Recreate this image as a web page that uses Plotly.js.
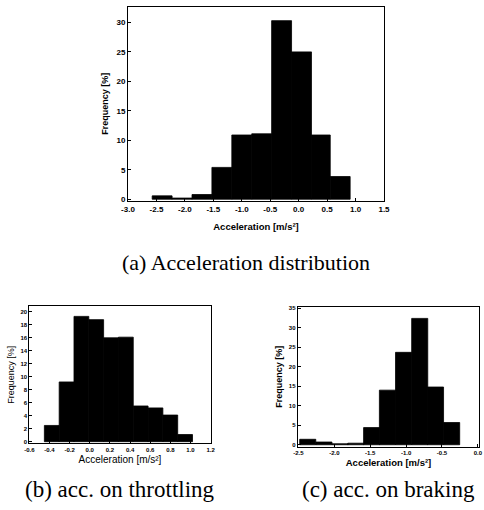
<!DOCTYPE html>
<html>
<head>
<meta charset="utf-8">
<script src="https://cdn.plot.ly/plotly-3.0.1.min.js"></script>
<style>html,body{margin:0;padding:0;background:#fff;}#chart{width:484px;height:510px;}</style>
</head>
<body>
<div id="chart"></div>
<script>
// (a) Acceleration distribution
const accCenters = [-2.40, -2.05, -1.70, -1.35, -1.00, -0.65, -0.30, 0.05, 0.39, 0.73];
const accWidths  = [0.35, 0.35, 0.35, 0.35, 0.35, 0.35, 0.35, 0.35, 0.33, 0.35];
const accFreq    = [0.57, 0.2, 0.8, 5.4, 10.9, 11.1, 30.3, 25.0, 10.9, 3.85];
const accXTicks  = [-3.0, -2.5, -2.0, -1.5, -1.0, -0.5, 0.0, 0.5, 1.0, 1.5];
const accYTicks  = [0, 5, 10, 15, 20, 25, 30];

// (b) acc. on throttling
const thrCenters = [-0.377, -0.230, -0.083, 0.064, 0.211, 0.358, 0.505, 0.652, 0.799, 0.946];
const thrWidth   = 0.147;
const thrFreq    = [2.5, 9.2, 19.3, 18.8, 16.0, 16.1, 5.5, 5.2, 4.1, 1.1];
const thrXTicks  = [-0.6, -0.4, -0.2, 0.0, 0.2, 0.4, 0.6, 0.8, 1.0, 1.2];
const thrYTicks  = [0, 2, 4, 6, 8, 10, 12, 14, 16, 18, 20];

// (c) acc. on braking
const brkCenters = [-2.37, -2.145, -1.92, -1.70, -1.48, -1.26, -1.035, -0.81, -0.59, -0.365];
const brkWidth   = 0.224;
const brkFreq    = [1.4, 0.7, 0.25, 0.4, 4.4, 14.0, 23.7, 32.4, 14.8, 5.7];
const brkXTicks  = [-2.5, -2.0, -1.5, -1.0, -0.5, 0.0];
const brkYTicks  = [0, 5, 10, 15, 20, 25, 30, 35];

const captions = ["(a) Acceleration distribution", "(b) acc. on throttling", "(c) acc. on braking"];
const xTitle = "Acceleration [m/s²]";
const yTitle = "Frequency [%]";

const W = 484, H = 510;
const px = v => v / W;
const py = v => 1 - v / H;

function bars(x, y, w, xa, ya) {
  return {type: 'bar', x: x, y: y, width: w, xaxis: xa, yaxis: ya,
          marker: {color: '#000', line: {width: 0.8, color: '#000'}}, hoverinfo: 'skip', showlegend: false};
}

const SANS = 'Liberation Sans, Arial, sans-serif';
const tickFontA = {family: SANS, size: 8, color: '#000', weight: 'bold'};
const tickFontS = {family: SANS, size: 6, color: '#000', weight: 'bold'};
const titleFontA = {family: SANS, size: 9.5, color: '#000', weight: 'bold'};
const titleFontAy = {family: SANS, size: 9, color: '#000', weight: 'bold'};
const titleFontBx = {family: SANS, size: 10, color: '#000'};
const titleFontBy = {family: SANS, size: 9, color: '#000'};
const titleFontC = {family: SANS, size: 9.5, color: '#000', weight: 'bold'};
const titleFontCy = {family: SANS, size: 9, color: '#000', weight: 'bold'};

function xaxis(domain, range, ticks, fmt, font, tfont, standoff, anchor) {
  return {domain: domain, range: range, anchor: anchor, tickvals: ticks,
    ticktext: ticks.map(v => v.toFixed(fmt)), tickfont: font,
    ticks: 'inside', ticklen: 3, tickcolor: '#000', showline: true, mirror: true,
    linecolor: '#000', linewidth: 1, showgrid: false, zeroline: false, fixedrange: true,
    title: {text: xTitle, font: tfont, standoff: standoff}};
}
function yaxis(domain, range, ticks, font, tfont, standoff, anchor) {
  return {domain: domain, range: range, anchor: anchor, tickvals: ticks,
    ticktext: ticks.map(v => String(v)), tickfont: font,
    ticks: 'inside', ticklen: 3, tickcolor: '#000', showline: true, mirror: true,
    linecolor: '#000', linewidth: 1, showgrid: false, zeroline: false, fixedrange: true,
    title: {text: yTitle, font: tfont, standoff: standoff}};
}

const data = [
  bars(accCenters, accFreq, accWidths, 'x', 'y'),
  bars(thrCenters, thrFreq, thrWidth, 'x2', 'y2'),
  bars(brkCenters, brkFreq, brkWidth, 'x3', 'y3')
];

const capFontA = {family: 'Liberation Serif, Times New Roman, serif', size: 22, color: '#000'};
const capFontS = {family: 'Liberation Serif, Times New Roman, serif', size: 23, color: '#000'};

const layout = {
  width: W, height: H,
  margin: {l: 0, r: 0, t: 0, b: 0, pad: 0},
  paper_bgcolor: '#fff', plot_bgcolor: '#fff',
  bargap: 0, showlegend: false,
  xaxis:  xaxis([px(128), px(384)], [-3.0, 1.5], accXTicks, 1, tickFontA, titleFontA, 10, 'y'),
  yaxis:  yaxis([py(201), py(6.5)], [-0.3, 32.7], accYTicks, tickFontA, titleFontAy, 6, 'x'),
  xaxis2: xaxis([px(29.3), px(210.7)], [-0.6, 1.2], thrXTicks, 1, tickFontS, titleFontBx, 4, 'y2'),
  yaxis2: yaxis([py(443.3), py(306)], [-0.25, 20.9], thrYTicks, tickFontS, titleFontBy, 4, 'x2'),
  xaxis3: xaxis([px(297.7), px(479.3)], [-2.51, 0.02], brkXTicks, 1, tickFontS, titleFontC, 4, 'y3'),
  yaxis3: yaxis([py(446.7), py(306.7)], [-0.5, 35.4], brkYTicks, tickFontS, titleFontCy, 4, 'x3'),
  annotations: [
    {text: captions[0], x: px(246), y: py(262), xref: 'paper', yref: 'paper', xanchor: 'center', yanchor: 'middle', showarrow: false, font: capFontA},
    {text: captions[1], x: px(120), y: py(489), xref: 'paper', yref: 'paper', xanchor: 'center', yanchor: 'middle', showarrow: false, font: capFontS},
    {text: captions[2], x: px(388), y: py(489), xref: 'paper', yref: 'paper', xanchor: 'center', yanchor: 'middle', showarrow: false, font: capFontS}
  ]
};

Plotly.newPlot('chart', data, layout, {staticPlot: true, displayModeBar: false});
</script>
</body>
</html>
